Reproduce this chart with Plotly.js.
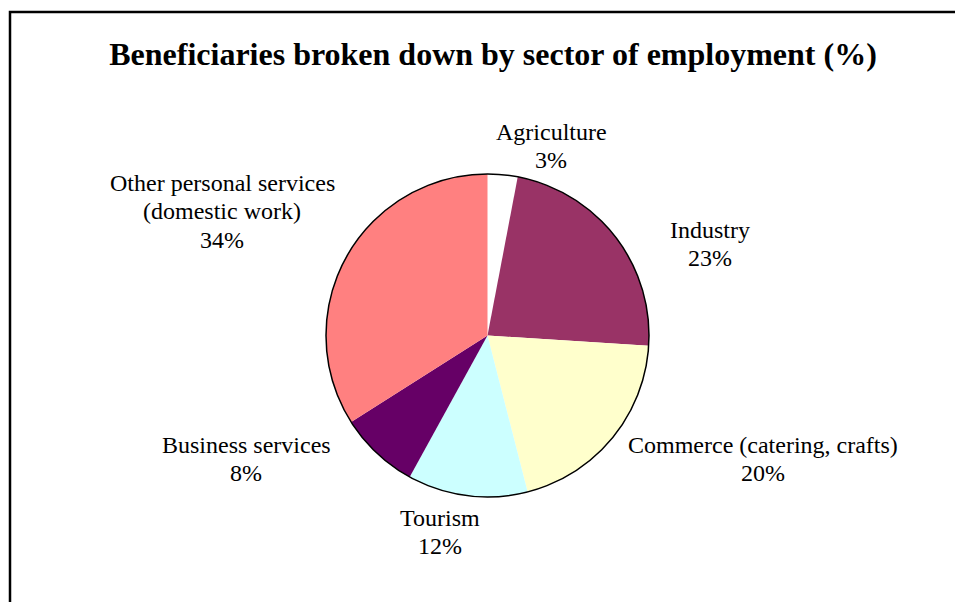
<!DOCTYPE html>
<html>
<head>
<meta charset="utf-8">
<script src="https://cdn.plot.ly/plotly-3.0.1.min.js"></script>
<style>html,body{margin:0;padding:0;background:#fff;}#chart{width:955px;height:602px;}</style>
</head>
<body>
<div id="chart"></div>
<script>
// Data
const sectors = ["Agriculture", "Industry", "Commerce (catering, crafts)", "Tourism", "Business services", "Other personal services<br>(domestic work)"];
const shares = [3, 23, 20, 12, 8, 34];
const sliceColors = ["#FFFFFF", "#993366", "#FFFFCC", "#CCFFFF", "#660066", "#FF8080"];

// Layout helpers (page pixels)
const W = 955, H = 602;
const cx = 487.5, cy = 335.5, r = 161.5;
const dom = {
  x: [(cx - r) / W, (cx + r) / W],
  y: [(H - cy - r) / H, (H - cy + r) / H]
};
// label block centres (pixels)
const labelPos = [[551, 146], [710, 244], [763, 459], [440, 532], [246, 459], [222, 211]];
const lineGap = 28.5;

const total = shares.reduce((a, b) => a + b, 0);
const font = "Liberation Serif, Times New Roman, serif";

const annotations = [];
sectors.forEach((s, i) => {
  const lines = s.split("<br>").concat([Math.round(shares[i] / total * 100) + "%"]);
  const n = lines.length;
  lines.forEach((t, k) => {
    const py = labelPos[i][1] + (k - (n - 1) / 2) * lineGap;
    annotations.push({
      xref: "paper", yref: "paper",
      x: labelPos[i][0] / W, y: 1 - py / H,
      xanchor: "center", yanchor: "middle",
      showarrow: false, align: "center",
      text: t,
      font: {family: font, size: 24, color: "#000"}
    });
  });
});

const data = [{
  type: "pie",
  labels: sectors,
  values: shares,
  sort: false,
  direction: "clockwise",
  rotation: 0,
  marker: {colors: sliceColors, line: {width: 0}},
  textinfo: "none",
  hoverinfo: "label+percent",
  showlegend: false,
  domain: dom
}];

const layout = {
  width: W, height: H,
  margin: {l: 0, r: 0, t: 0, b: 0},
  paper_bgcolor: "#fff",
  showlegend: false,
  title: {
    text: "<b>Beneficiaries broken down by sector of employment (%)</b>",
    font: {family: font, size: 32, color: "#000"},
    x: 493 / W, xanchor: "center",
    y: 1 - 54 / H, yanchor: "middle", yref: "container"
  },
  annotations: annotations,
  shapes: [
    {type: "circle", xref: "paper", yref: "paper",
     x0: dom.x[0], x1: dom.x[1], y0: dom.y[0], y1: dom.y[1],
     line: {color: "#000", width: 1.5}, fillcolor: "rgba(0,0,0,0)"},
    {type: "rect", xref: "paper", yref: "paper",
     x0: 10 / W, x1: 1.05, y0: -0.05, y1: 1 - 12 / H,
     line: {color: "#000", width: 2.5}, fillcolor: "rgba(0,0,0,0)"}
  ]
};

Plotly.newPlot("chart", data, layout, {displayModeBar: false, staticPlot: true});
</script>
</body>
</html>
